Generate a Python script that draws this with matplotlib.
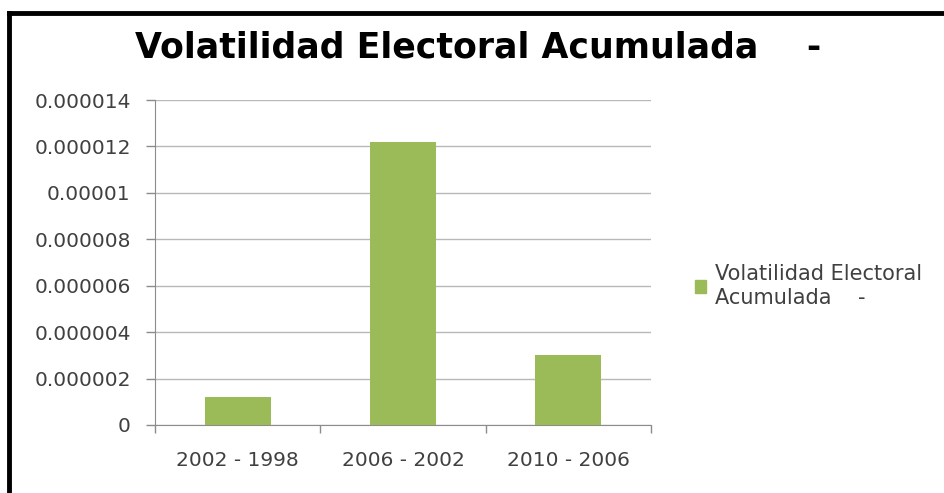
import matplotlib
matplotlib.use("Agg")
import matplotlib.pyplot as plt
from matplotlib.patches import Rectangle
from matplotlib.lines import Line2D

categories = ["2002 - 1998", "2006 - 2002", "2010 - 2006"]
values = [0.0000012, 0.0000122, 0.0000030]
yticks = [0, 0.000002, 0.000004, 0.000006, 0.000008, 0.00001, 0.000012, 0.000014]
ytick_labels = ["0", "0.000002", "0.000004", "0.000006", "0.000008", "0.00001", "0.000012", "0.000014"]
series_name = "Volatilidad Electoral\nAcumulada    -"
title = "Volatilidad Electoral Acumulada    -"

W, H = 945, 493
plt.rcParams['font.family'] = ['DejaVu Sans']
fig = plt.figure(figsize=(W / 100, H / 100), dpi=100)

green = "#9bbb59"
txt = "#404040"
axis_gray = "#8c8c8c"

# axes area in pixels: x 155..651, y 100..425
ax = fig.add_axes([155 / W, 1 - 425 / H, (651 - 155) / W, (425 - 100) / H])
x = list(range(len(categories)))
ax.bar(x, values, width=0.4, color=green, zorder=3)
ax.set_xlim(-0.5, len(categories) - 0.5)
ax.set_ylim(0, 0.000014)
ax.set_yticks(yticks)
ax.set_yticklabels(ytick_labels, fontsize=14.5, color=txt)
ax.set_xticks(x)
ax.set_xticklabels(categories, fontsize=14.5, color=txt)
ax.tick_params(axis='x', which='major', length=0, pad=19)
ax.tick_params(axis='y', length=6.5, color=axis_gray, width=1, pad=11)
ax.set_xticks([-0.5, 0.5, 1.5, 2.5], minor=True)
ax.tick_params(axis='x', which='minor', length=6, color=axis_gray, width=1, direction='out')
ax.grid(axis='y', color="#b8b8b8", linewidth=1, zorder=0)
for s in ["top", "right"]:
    ax.spines[s].set_visible(False)
ax.spines["left"].set_color(axis_gray)
ax.spines["bottom"].set_color(axis_gray)

# title
fig.text(478 / W, 1 - 47 / H, title, ha="center", va="center",
         fontsize=25, fontweight="bold", color="#000000")

# legend
handle = Rectangle((0, 0), 1, 1, color=green)
fig.legend([handle], [series_name], loc="center left",
           bbox_to_anchor=(695 / W, 1 - 286 / H), frameon=False,
           prop={'size': 15}, labelcolor=txt, handlelength=0.55, handleheight=0.55,
           handletextpad=0.4, borderaxespad=0, borderpad=0)
for t in fig.legends[0].get_texts():
    t.set_linespacing(1.25)

# frame border: top and left only
fig.add_artist(Line2D([9 / W, 1], [1 - 13 / H, 1 - 13 / H], transform=fig.transFigure,
                      color="black", linewidth=3.5))
fig.add_artist(Line2D([9 / W, 9 / W], [0, 1 - 13 / H], transform=fig.transFigure,
                      color="black", linewidth=3.5))

fig.savefig("out.png", dpi=100)
